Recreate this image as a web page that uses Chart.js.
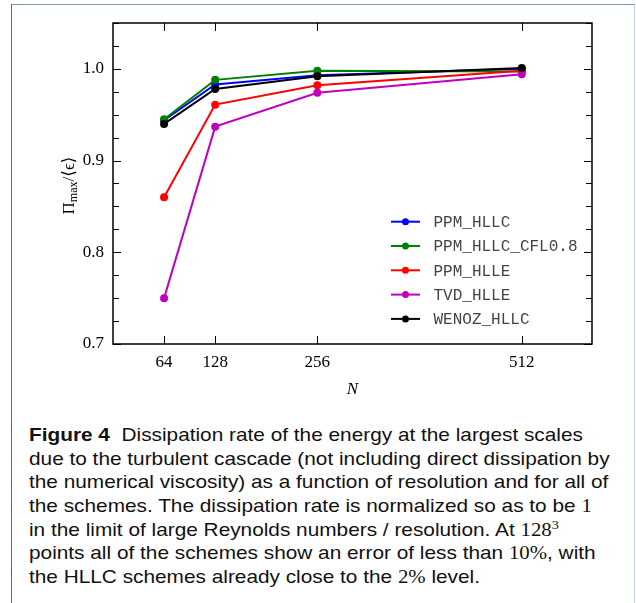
<!DOCTYPE html>
<html>
<head>
<meta charset="utf-8">
<script src="https://cdn.jsdelivr.net/npm/chart.js@4/dist/chart.umd.min.js"></script>
<style>
  html, body { margin: 0; padding: 0; background: #fff; }
  body { width: 636px; height: 603px; position: relative; overflow: hidden; }
  #frame { position: absolute; left: 11px; top: 4px; width: 622px; height: 610px;
           border-left: 1px solid #4a6b94; border-top: 1px solid #7f97b5; border-right: 1px solid #c5ced9; }
  #wrap { position: absolute; left: 0; top: 0; width: 636px; height: 400px; }
  #caption { position: absolute; left: 29px; top: 423px; width: 560px;
             font-family: "Liberation Sans", Arial, sans-serif; font-size: 19px; line-height: 23.67px;
             color: #111; white-space: nowrap; transform: scaleX(1.095); transform-origin: 0 0; }
  #caption b { font-weight: bold; }
  .m { font-family: "Liberation Serif", "DejaVu Serif", serif; font-size: 19px; }
  sup.m { font-size: 13px; line-height: 0; vertical-align: 0.55em; }
</style>
</head>
<body>
<div id="frame"></div>
<div id="wrap"><canvas id="c" width="636" height="400"></canvas></div>
<div id="caption">
<b>Figure 4</b>&nbsp; Dissipation rate of the energy at the largest scales<br>
due to the turbulent cascade (not including direct dissipation by<br>
the numerical viscosity) as a function of resolution and for all of<br>
the schemes. The dissipation rate is normalized so as to be <span class="m">1</span><br>
in the limit of large Reynolds numbers / resolution. At <span class="m">128</span><sup class="m">3</sup><br>
points all of the schemes show an error of less than <span class="m">10%</span>, with<br>
the HLLC schemes already close to the <span class="m">2%</span> level.
</div>
<script>
// ---- data ----
const resolutions = [64, 128, 256, 512];
const seriesNames = ["PPM_HLLC", "PPM_HLLC_CFL0.8", "PPM_HLLE", "TVD_HLLE", "WENOZ_HLLC"];
const seriesColors = ["#0000ff", "#008000", "#ff0000", "#bf00bf", "#000000"];
const ppmHllc      = [0.944, 0.983, 0.993, 1.000];
const ppmHllcCfl08 = [0.945, 0.988, 0.998, 0.997];
const ppmHlle      = [0.860, 0.961, 0.982, 0.998];
const tvdHlle      = [0.750, 0.937, 0.974, 0.994];
const wenozHllc    = [0.940, 0.978, 0.992, 1.001];
const seriesValues = [ppmHllc, ppmHllcCfl08, ppmHlle, tvdHlle, wenozHllc];
const yMajorTicks = [0.7, 0.8, 0.9, 1.0];
const yTickLabels = ["0.7", "0.8", "0.9", "1.0"];
const xTickLabels = ["64", "128", "256", "512"];
const yTitleParts = ["Π", "max", "/⟨ϵ⟩"];

const datasets = seriesNames.map((name, i) => ({
  label: name,
  data: resolutions.map((x, j) => ({ x: x, y: seriesValues[i][j] })),
  borderColor: seriesColors[i],
  backgroundColor: seriesColors[i],
  borderWidth: 2,
  pointRadius: 4,
  pointHoverRadius: 4,
  pointBorderWidth: 0,
  tension: 0,
  order: seriesNames.length - i
}));

const serif = '"Liberation Serif", "DejaVu Serif", serif';

const framePlugin = {
  id: 'framePlugin',
  afterDatasetsDraw(chart) {
    const ctx = chart.ctx, a = chart.chartArea;
    const xs = chart.scales.x, ys = chart.scales.y;
    ctx.save();
    ctx.strokeStyle = '#000';
    ctx.lineWidth = 1;
    // y ticks (inward, both sides)
    for (let v = 0.7; v <= 1.0501; v += 0.025) {
      const y = Math.round(ys.getPixelForValue(v)) + 0.5;
      const major = yMajorTicks.some(t => Math.abs(t - v) < 1e-6);
      const len = major ? 8 : 6;
      ctx.beginPath();
      ctx.moveTo(a.left, y); ctx.lineTo(a.left + len, y);
      ctx.moveTo(a.right, y); ctx.lineTo(a.right - len, y);
      ctx.stroke();
    }
    // x ticks (inward, top and bottom)
    resolutions.forEach(v => {
      const x = Math.round(xs.getPixelForValue(v)) + 0.5;
      ctx.beginPath();
      ctx.moveTo(x, a.top); ctx.lineTo(x, a.top + 8);
      ctx.moveTo(x, a.bottom); ctx.lineTo(x, a.bottom - 8);
      ctx.stroke();
    });
    // axes box
    ctx.lineWidth = 1.5;
    ctx.strokeRect(a.left, a.top, a.right - a.left, a.bottom - a.top);
    // y axis title with subscript
    const big = '17px ' + serif, small = '12px ' + serif;
    ctx.font = big; const w0 = ctx.measureText(yTitleParts[0]).width;
    const w2 = ctx.measureText(yTitleParts[2]).width;
    ctx.font = small; const w1 = ctx.measureText(yTitleParts[1]).width;
    const total = w0 + w1 + w2;
    ctx.translate(a.left - 45, (a.top + a.bottom) / 2 + 2);
    ctx.rotate(-Math.PI / 2);
    ctx.fillStyle = '#000';
    ctx.textBaseline = 'alphabetic';
    ctx.textAlign = 'left';
    let px = -total / 2;
    ctx.font = big; ctx.fillText(yTitleParts[0], px, 6); px += w0;
    ctx.font = small; ctx.fillText(yTitleParts[1], px, 9); px += w1;
    ctx.font = big; ctx.fillText(yTitleParts[2], px, 6);
    ctx.setTransform(1, 0, 0, 1, 0, 0);
    // legend inside plot
    const lx = a.right - 201, ly0 = a.top + 198.7, dy = 24.3;
    ctx.font = '16px "Liberation Mono", "DejaVu Sans Mono", monospace';
    ctx.textBaseline = 'middle';
    ctx.textAlign = 'left';
    seriesNames.forEach((name, i) => {
      const y = ly0 + i * dy;
      ctx.strokeStyle = seriesColors[i];
      ctx.fillStyle = seriesColors[i];
      ctx.lineWidth = 2;
      ctx.beginPath(); ctx.moveTo(lx, y); ctx.lineTo(lx + 29, y); ctx.stroke();
      ctx.beginPath(); ctx.arc(lx + 14.5, y, 3.5, 0, Math.PI * 2); ctx.fill();
      ctx.fillStyle = '#444';
      ctx.fillText(name, lx + 42.5, y + 1);
    });
    ctx.restore();
  }
};

new Chart(document.getElementById('c'), {
  type: 'line',
  data: { datasets: datasets },
  options: {
    responsive: false,
    maintainAspectRatio: false,
    animation: false,
    layout: { padding: { top: 23, right: 44, left: 0, bottom: 0 } },
    plugins: { legend: { display: false }, tooltip: { enabled: false } },
    scales: {
      x: {
        type: 'linear', min: 0, max: 600,
        grid: { display: false, drawTicks: false },
        border: { display: false },
        afterBuildTicks: (s) => { s.ticks = resolutions.map(v => ({ value: v })); },
        afterFit: (s) => { s.height = 56; },
        ticks: {
          padding: 8, color: '#000', maxRotation: 0, autoSkip: false,
          font: { family: serif, size: 17 },
          callback: (v) => { const i = resolutions.indexOf(v); return i >= 0 ? xTickLabels[i] : ''; }
        },
        title: { display: true, text: 'N', color: '#000', padding: { top: 4, bottom: 0 },
                 font: { family: serif, size: 17, style: 'italic' } }
      },
      y: {
        type: 'linear', min: 0.7, max: 1.05,
        grid: { display: false, drawTicks: false },
        border: { display: false },
        afterBuildTicks: (s) => { s.ticks = yMajorTicks.map(v => ({ value: v })); },
        afterFit: (s) => { s.width = 113; },
        ticks: {
          padding: 9, color: '#000', autoSkip: false,
          font: { family: serif, size: 17 },
          callback: (v) => { const i = yMajorTicks.findIndex(t => Math.abs(t - v) < 1e-6); return i >= 0 ? yTickLabels[i] : ''; }
        }
      }
    }
  },
  plugins: [framePlugin]
});
</script>
</body>
</html>
